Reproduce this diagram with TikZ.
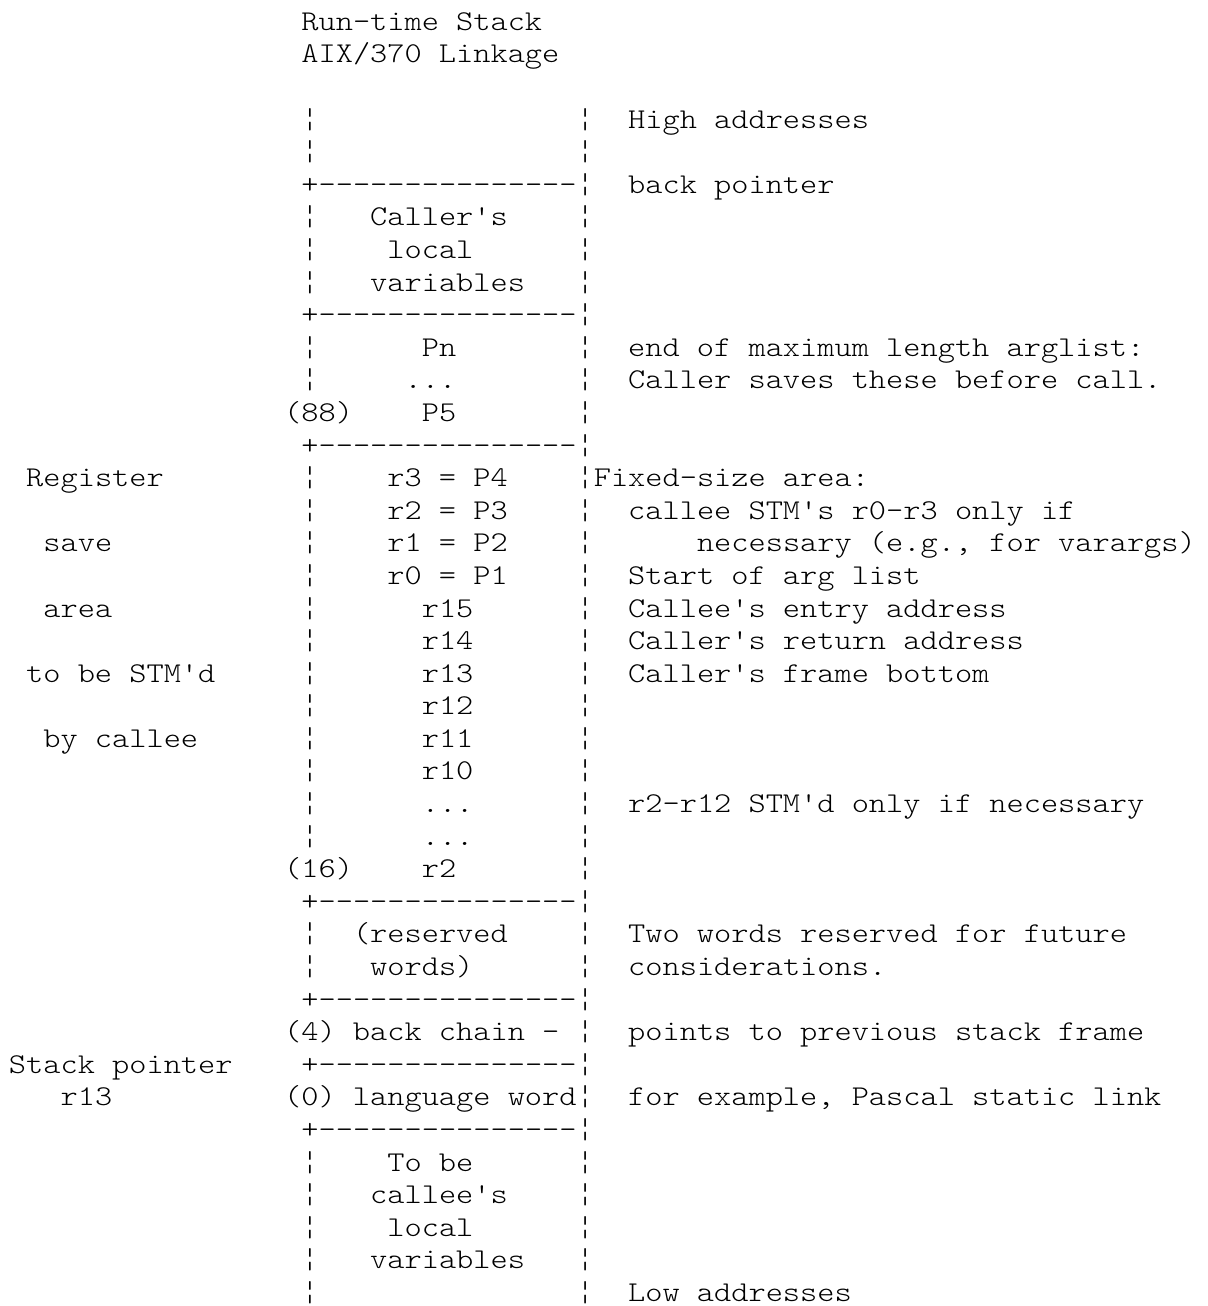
\documentclass[tikz,border=0pt]{standalone}
\usepackage{fontspec}
\newfontfamily\stackmono[FakeStretch=1.1428]{lmmonolt10-regular.otf}
\tikzset{
    mono/.style={font=\stackmono\fontsize{28.67}{32.6}\selectfont, anchor=base west, inner sep=0pt, outer sep=0pt},
}
% one piece of text at a character column and text row
\newcommand{\putline}[4]{\node[mono] (#1) at ({9+17.2*#2}, {30.4+32.59*#3}) {#4};}

\begin{document}
\begin{tikzpicture}[x=1pt, y=-1pt]
    \fill[white] (0,0) rectangle (1207,1306);
    \useasboundingbox (0,0) rectangle (1207,1306);

    % Draw title
    \putline{title}{17}{0}{Run-time Stack}
    \putline{subtitle}{17}{1}{AIX/370 Linkage}

    % Draw frame borders
    \foreach \r in {5,9,13,27,30,32,34} {
        \putline{edge-\r}{17}{\r}{+---------------¦}
    }
    \foreach \r in {3,4,6,7,8,10,11,14,15,16,17,18,19,20,21,22,23,24,25,28,29,35,36,37,38,39} {
        \putline{lbar-\r}{17}{\r}{¦}
    }
    \foreach \r in {3,4,6,7,8,10,11,12,14,15,16,17,18,19,20,21,22,23,24,25,26,28,29,31,33,35,36,37,38,39} {
        \putline{rbar-\r}{33}{\r}{¦}
    }

    % Draw frame contents
    \putline{callerA}{21}{6}{Caller's}
    \putline{callerB}{22}{7}{local}
    \putline{callerC}{21}{8}{variables}
    \putline{pn}{24}{10}{Pn}
    \putline{pdots}{23}{11}{...}
    \putline{off88}{16}{12}{(88)}
    \putline{pfive}{24}{12}{P5}
    \putline{rthree}{22}{14}{r3 = P4}
    \putline{rtwo}{22}{15}{r2 = P3}
    \putline{rone}{22}{16}{r1 = P2}
    \putline{rzero}{22}{17}{r0 = P1}
    \putline{rfifteen}{24}{18}{r15}
    \putline{rfourteen}{24}{19}{r14}
    \putline{rthirteen}{24}{20}{r13}
    \putline{rtwelve}{24}{21}{r12}
    \putline{releven}{24}{22}{r11}
    \putline{rten}{24}{23}{r10}
    \putline{rdotsA}{24}{24}{...}
    \putline{rdotsB}{24}{25}{...}
    \putline{off16}{16}{26}{(16)}
    \putline{rlast}{24}{26}{r2}
    \putline{resA}{20}{28}{(reserved}
    \putline{resB}{21}{29}{words)}
    \putline{chain}{16}{31}{(4) back chain -}
    \putline{langword}{16}{33}{(0) language word}
    \putline{calleeA}{22}{35}{To be}
    \putline{calleeB}{21}{36}{callee's}
    \putline{calleeC}{22}{37}{local}
    \putline{calleeD}{21}{38}{variables}

    % Draw left labels
    \putline{regA}{1}{14}{Register}
    \putline{regB}{2}{16}{save}
    \putline{regC}{2}{18}{area}
    \putline{regD}{1}{20}{to be STM'd}
    \putline{regE}{2}{22}{by callee}
    \putline{spA}{0}{32}{Stack pointer}
    \putline{spB}{3}{33}{r13}

    % Draw right notes
    \putline{high}{36}{3}{High addresses}
    \putline{backptr}{36}{5}{back pointer}
    \putline{argend}{36}{10}{end of maximum length arglist:}
    \putline{argsave}{36}{11}{Caller saves these before call.}
    \putline{fixed}{34}{14}{Fixed-size area:}
    \putline{stmA}{36}{15}{callee STM's r0-r3 only if}
    \putline{stmB}{40}{16}{necessary (e.g., for varargs)}
    \putline{argstart}{36}{17}{Start of arg list}
    \putline{entry}{36}{18}{Callee's entry address}
    \putline{retaddr}{36}{19}{Caller's return address}
    \putline{framebot}{36}{20}{Caller's frame bottom}
    \putline{stmC}{36}{24}{r2-r12 STM'd only if necessary}
    \putline{resnoteA}{36}{28}{Two words reserved for future}
    \putline{resnoteB}{36}{29}{considerations.}
    \putline{prevframe}{36}{31}{points to previous stack frame}
    \putline{staticlink}{36}{33}{for example, Pascal static link}
    \putline{low}{36}{39}{Low addresses}
\end{tikzpicture}
\end{document}
